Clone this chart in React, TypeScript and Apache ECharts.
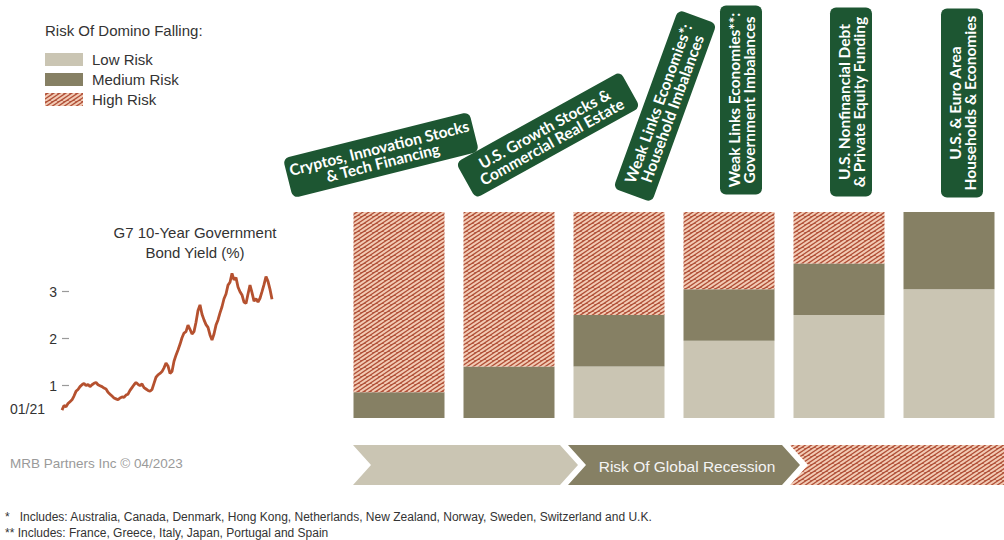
import React, { useEffect, useRef } from "react";
import * as echarts from "echarts";

// ---------- data ----------
const legendTitle = "Risk Of Domino Falling:";
const riskLevels = ["Low Risk", "Medium Risk", "High Risk"];
const dominoes = [
  "Cryptos, Innovation Stocks\n& Tech Financing",
  "U.S. Growth Stocks &\nCommercial Real Estate",
  "Weak Links Economies*:\nHousehold Imbalances",
  "Weak Links Economies**:\nGovernment Imbalances",
  "U.S. Nonfinancial Debt\n& Private Equity Funding",
  "U.S. & Euro Area\nHouseholds & Economies",
];
const lowRisk = [0, 0, 25, 37.5, 50, 62.5];
const mediumRisk = [12.5, 25, 25, 25, 25, 37.5];
const highRisk = [87.5, 75, 50, 37.5, 25, 0];

const yieldTitle = "G7 10-Year Government\nBond Yield (%)";
const yieldStartLabel = "01/21";
const yieldTicks = [1, 2, 3];
const yieldDates = [
  "2021-01-01", "2021-01-09", "2021-01-17", "2021-01-25", "2021-02-02", "2021-02-10", "2021-02-18", "2021-02-26",
  "2021-03-06", "2021-03-14", "2021-03-22", "2021-03-30", "2021-04-07", "2021-04-15", "2021-04-23", "2021-05-01",
  "2021-05-09", "2021-05-17", "2021-05-25", "2021-06-02", "2021-06-10", "2021-06-18", "2021-06-26", "2021-07-04",
  "2021-07-12", "2021-07-20", "2021-07-28", "2021-08-05", "2021-08-13", "2021-08-21", "2021-08-29", "2021-09-06",
  "2021-09-14", "2021-09-22", "2021-09-30", "2021-10-08", "2021-10-16", "2021-10-24", "2021-11-01", "2021-11-09",
  "2021-11-17", "2021-11-25", "2021-12-03", "2021-12-11", "2021-12-19", "2021-12-27", "2022-01-04", "2022-01-12",
  "2022-01-20", "2022-01-28", "2022-02-05", "2022-02-13", "2022-02-21", "2022-03-01", "2022-03-09", "2022-03-17",
  "2022-03-25", "2022-04-02", "2022-04-10", "2022-04-18", "2022-04-26", "2022-05-04", "2022-05-12", "2022-05-20",
  "2022-05-28", "2022-06-05", "2022-06-13", "2022-06-21", "2022-06-29", "2022-07-07", "2022-07-15", "2022-07-23",
  "2022-07-31", "2022-08-08", "2022-08-16", "2022-08-24", "2022-09-01", "2022-09-09", "2022-09-17", "2022-09-25",
  "2022-10-03", "2022-10-11", "2022-10-19", "2022-10-27", "2022-11-04", "2022-11-12", "2022-11-20", "2022-11-28",
  "2022-12-06", "2022-12-14", "2022-12-22", "2022-12-30", "2023-01-07", "2023-01-15", "2023-01-23", "2023-01-31",
  "2023-02-08", "2023-02-16", "2023-02-24", "2023-03-04", "2023-03-12", "2023-03-20", "2023-03-28", "2023-04-05",
  "2023-04-13", "2023-04-21",
];
const yieldValues = [
  0.48, 0.58, 0.55, 0.62, 0.66, 0.70, 0.78, 0.88, 0.92, 0.98, 1.02, 1.05, 1.00, 1.03, 0.98, 1.02,
  1.05, 1.07, 1.02, 1.00, 0.98, 0.95, 0.93, 0.86, 0.82, 0.78, 0.74, 0.72, 0.70, 0.74, 0.76, 0.75,
  0.80, 0.82, 0.90, 0.96, 1.02, 1.07, 1.03, 1.00, 1.04, 0.96, 0.93, 0.90, 0.88, 0.92, 1.05, 1.18,
  1.23, 1.26, 1.30, 1.38, 1.48, 1.42, 1.26, 1.30, 1.52, 1.65, 1.76, 1.88, 2.02, 2.12, 2.15, 2.29,
  2.20, 2.10, 2.15, 2.35, 2.60, 2.72, 2.52, 2.40, 2.30, 2.24, 2.08, 1.97, 2.10, 2.29, 2.40, 2.55,
  2.68, 2.85, 2.95, 3.14, 3.20, 3.39, 3.25, 3.30, 3.10, 3.00, 2.93, 2.78, 2.75, 2.95, 3.14, 2.98,
  2.80, 2.85, 2.78, 2.86, 3.00, 3.15, 3.32, 3.22, 3.05, 2.84,
];

const recessionLabel = "Risk Of Global Recession";
const sourceNote = "MRB Partners Inc \u00a9 04/2023";
const footnotes = [
  "*   Includes: Australia, Canada, Denmark, Hong Kong, Netherlands, New Zealand, Norway, Sweden, Switzerland and U.K.",
  "** Includes: France, Greece, Italy, Japan, Portugal and Spain",
];

// ---------- styles ----------
const FONT = "'Liberation Sans', Arial, sans-serif";
const BOX_FONT = "Lato, 'Open Sans', sans-serif";
const LOW = "#cac5b3";
const MED = "#868064";
const RED = "#b04f37";
const STRIPE = "#f2cbb5";
const GREEN = "#1d5632";
const LINE = "#b5512f";

function makeHatch() {
  const W = 12;
  const H = 8;
  const c = document.createElement("canvas");
  c.width = W;
  c.height = H;
  const ctx = c.getContext("2d")!;
  ctx.fillStyle = RED;
  ctx.fillRect(0, 0, W, H);
  ctx.strokeStyle = STRIPE;
  ctx.lineWidth = 2;
  for (const o of [-W, -W / 2, 0, W / 2, W]) {
    ctx.beginPath();
    ctx.moveTo(o, H);
    ctx.lineTo(o + W, 0);
    ctx.stroke();
  }
  return { image: c.toDataURL(), repeat: "repeat", imageWidth: W, imageHeight: H };
}

// label boxes (layout only): center, rotation (deg), size
const boxLayout = [
  { cx: 381, cy: 155, rot: 14, w: 192, h: 41 },
  { cx: 548, cy: 135, rot: 29, w: 188, h: 41 },
  { cx: 665, cy: 106, rot: 70, w: 190, h: 41 },
  { cx: 741, cy: 100, rot: 90, w: 189, h: 42 },
  { cx: 851, cy: 102, rot: 90, w: 189, h: 42 },
  { cx: 962, cy: 103, rot: 90, w: 189, h: 42 },
];

function chevron(x0: number, x1: number, y0: number, y1: number, d: number) {
  const ym = (y0 + y1) / 2;
  return [
    [x0, y0], [x1, y0], [x1 + d, ym], [x1, y1], [x0, y1], [x0 + d, ym],
  ];
}

export default function App() {
  const ref = useRef<HTMLDivElement>(null);
  useEffect(() => {
    if (!ref.current) return;
    const chart = echarts.init(ref.current, undefined, { renderer: "svg" });
    const hatch = makeHatch();
    const colors = [LOW, MED, hatch];
    const riskData = [lowRisk, mediumRisk, highRisk];

    const boxes = dominoes.map((label, i) => {
      const b = boxLayout[i];
      return {
        type: "group",
        x: b.cx,
        y: b.cy,
        rotation: (b.rot * Math.PI) / 180,
        children: [
          {
            type: "rect",
            shape: { x: -b.w / 2, y: -b.h / 2, width: b.w, height: b.h, r: 6 },
            style: { fill: GREEN },
          },
          {
            type: "text",
            x: 0,
            y: 0,
            style: {
              text: label,
              fill: "#ffffff",
              fontFamily: BOX_FONT,
              fontWeight: "bold",
              fontSize: 15.5,
              lineHeight: 15,
              align: "center",
              verticalAlign: "middle",
            },
          },
        ],
      };
    });

    const option: any = {
      animation: false,
      backgroundColor: "#ffffff",
      title: {
        text: legendTitle,
        left: 45,
        top: 23,
        padding: 0,
        textStyle: { fontFamily: FONT, fontSize: 15, fontWeight: "normal", color: "#333333" },
      },
      legend: {
        orient: "vertical",
        left: 45,
        top: 52,
        padding: 0,
        itemWidth: 38,
        itemHeight: 13,
        itemGap: 5,
        icon: "rect",
        selectedMode: false,
        data: riskLevels,
        textStyle: { fontFamily: FONT, fontSize: 15, color: "#333333", lineHeight: 13, padding: [0, 0, 0, 4] },
      },
      grid: [
        { left: 344, top: 212, width: 675, height: 206 },
        { left: 62, top: 268.2, width: 210, height: 164.5 },
      ],
      xAxis: [
        { gridIndex: 0, type: "category", data: dominoes, show: false },
        { gridIndex: 1, type: "category", data: yieldDates, boundaryGap: false, show: false },
      ],
      yAxis: [
        { gridIndex: 0, type: "value", min: 0, max: 100, show: false },
        {
          gridIndex: 1,
          type: "value",
          min: 0,
          max: 3.5,
          axisLine: { show: false },
          splitLine: { show: false },
          axisTick: {
            show: true,
            inside: true,
            length: 7,
            customValues: yieldTicks,
            lineStyle: { color: "#9a9a9a", width: 1.2 },
          },
          axisLabel: {
            customValues: yieldTicks,
            margin: 5,
            fontFamily: FONT,
            fontSize: 14,
            color: "#333333",
          },
        },
      ],
      series: [
        ...riskLevels.map((name, i) => ({
          name,
          type: "bar",
          stack: "risk",
          xAxisIndex: 0,
          yAxisIndex: 0,
          barWidth: 91,
          data: riskData[i],
          itemStyle: { color: colors[i] },
          emphasis: { disabled: true },
        })),
        {
          name: "G7 10-Year Government Bond Yield",
          type: "line",
          xAxisIndex: 1,
          yAxisIndex: 1,
          data: yieldValues,
          showSymbol: false,
          lineStyle: { color: LINE, width: 2.8 },
          itemStyle: { color: LINE },
        },
      ],
      graphic: [
        ...boxes,
        {
          type: "text",
          x: 195,
          y: 242,
          style: {
            text: yieldTitle,
            fill: "#333333",
            fontFamily: FONT,
            fontSize: 15,
            lineHeight: 20,
            align: "center",
            verticalAlign: "middle",
          },
        },
        {
          type: "text",
          x: 10,
          y: 409,
          style: { text: yieldStartLabel, fill: "#333333", fontFamily: FONT, fontSize: 14, verticalAlign: "middle" },
        },
        {
          type: "text",
          x: 10,
          y: 463,
          style: { text: sourceNote, fill: "#9a9a9a", fontFamily: FONT, fontSize: 13.5, verticalAlign: "middle" },
        },
        { type: "polygon", shape: { points: chevron(353, 560, 445, 485, 18) }, style: { fill: LOW } },
        { type: "polygon", shape: { points: chevron(568, 782, 445, 485, 18) }, style: { fill: MED } },
        { type: "polygon", shape: { points: chevron(790, 1010, 445, 485, 18) }, style: { fill: hatch } },
        {
          type: "text",
          x: 687,
          y: 466,
          style: {
            text: recessionLabel,
            fill: "#f4f4f4",
            fontFamily: FONT,
            fontSize: 15.5,
            align: "center",
            verticalAlign: "middle",
          },
        },
        ...footnotes.map((t, i) => ({
          type: "text",
          x: 5,
          y: 517 + i * 16,
          style: { text: t, fill: "#333333", fontFamily: FONT, fontSize: 12, verticalAlign: "middle" },
        })),
      ],
    };
    chart.setOption(option);
    return () => chart.dispose();
  }, []);

  return (
    <div
      ref={ref}
      style={{ position: "fixed", left: 0, top: 0, width: 1004, height: 540, background: "#ffffff" }}
    />
  );
}
